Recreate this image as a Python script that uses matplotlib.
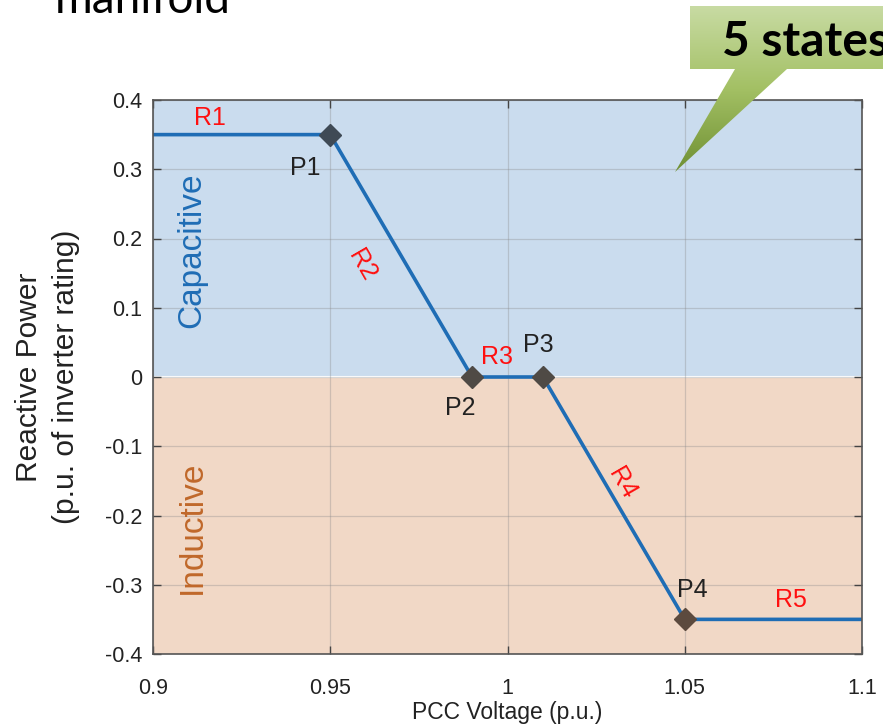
import numpy as np
import matplotlib
matplotlib.use("agg")
import matplotlib.pyplot as plt
from matplotlib.patches import Polygon

# Volt-VAR curve breakpoints
VOLTAGE = [0.9, 0.95, 0.99, 1.01, 1.05, 1.1]
QPOWER = [0.35, 0.35, 0.0, 0.0, -0.35, -0.35]
POINT_NAMES = ["P1", "P2", "P3", "P4"]
REGION_NAMES = ["R1", "R2", "R3", "R4", "R5"]
XTICKS = [0.9, 0.95, 1.0, 1.05, 1.1]
XTICKLABELS = ["0.9", "0.95", "1", "1.05", "1.1"]
YTICKS = [-0.4, -0.3, -0.2, -0.1, 0, 0.1, 0.2, 0.3, 0.4]
YTICKLABELS = ["-0.4", "-0.3", "-0.2", "-0.1", "0", "0.1", "0.2", "0.3", "0.4"]

LINE_C = "#1f6db5"
CAP_C = "#cadcee"
IND_C = "#f1d8c6"

plt.rcParams["font.family"] = ["Liberation Sans", "DejaVu Sans"]

fig = plt.figure(figsize=(8.83, 7.28), dpi=100)
ax = fig.add_axes([153/883, 1-654/728, 709/883, 554/728])

ax.axhspan(0, 0.4, color=CAP_C, zorder=0, lw=0)
ax.axhspan(-0.4, 0, color=IND_C, zorder=0, lw=0)
ax.axhline(0, color="white", lw=1.5, zorder=0.5)
ax.grid(True, color="#8a8a8a", alpha=0.35, lw=0.9, zorder=0.6)
ax.set_axisbelow(True)

ax.plot(VOLTAGE, QPOWER, color=LINE_C, lw=2.6, zorder=2)
mk_cols = ["#3f4a55", "#4f4a45", "#4f4a45", "#5c4a3e"]
for i, c in zip(range(1, 5), mk_cols):
    ax.plot(VOLTAGE[i], QPOWER[i], marker="D", ms=11.5, color=c, mec=c, zorder=3)

ax.set_xlim(0.9, 1.1)
ax.set_ylim(-0.4, 0.4)
ax.set_xticks(XTICKS)
ax.set_xticklabels(XTICKLABELS, fontsize=15.5)
ax.set_yticks(YTICKS)
ax.set_yticklabels(YTICKLABELS, fontsize=15.5)
ax.tick_params(direction="in", top=True, right=True, length=6, width=1,
               color="#444444", labelcolor="#222222")
ax.tick_params(axis="x", pad=17)
ax.tick_params(axis="y", pad=8)
for s in ax.spines.values():
    s.set_color("#555555")
    s.set_linewidth(1.2)

ax.set_xlabel("PCC Voltage (p.u.)", fontsize=16.5, color="#222222", labelpad=2)
ax.set_ylabel("Reactive Power\n(p.u. of inverter rating)", fontsize=21.5,
              color="#222222", labelpad=18, linespacing=1.4)

# point labels
pt_pos = [(0.943, 0.302), (0.9866, -0.045), (1.0086, 0.046), (1.052, -0.3075)]
for name, (x, y) in zip(POINT_NAMES, pt_pos):
    ax.text(x, y, name, fontsize=18, color="#222222", ha="center", va="center", zorder=4)

# region labels
rg_pos = [(0.916, 0.374, 0), (0.959, 0.162, -60), (0.997, 0.029, 0),
          (1.0323, -0.153, -60), (1.080, -0.322, 0)]
for name, (x, y, r) in zip(REGION_NAMES, rg_pos):
    ax.text(x, y, name, fontsize=18, color="#ff1010", ha="center", va="center",
            rotation=r, zorder=4)

ax.text(0.911, 0.183, "Capacitive", fontsize=24, color="#1f6db5", rotation=90,
        ha="center", va="center")
ax.text(0.911, -0.217, "Inductive", fontsize=24, color="#c0682a", rotation=90,
        ha="center", va="center")

# overlay in pixel coordinates for slide elements
ov = fig.add_axes([0, 0, 1, 1], zorder=10)
ov.set_xlim(0, 883)
ov.set_ylim(728, 0)
ov.axis("off")
ov.patch.set_alpha(0)

ov.text(55, 13, "manifold", fontsize=33, color="black", family="Lato",
        va="baseline", ha="left")

callout = Polygon([(690, 6), (900, 6), (900, 69), (787, 69), (675, 172),
                   (735, 69), (690, 69)], closed=True, fc="none", ec="none")
ov.add_patch(callout)
grad = np.linspace(0, 1, 256).reshape(-1, 1)
cmap = matplotlib.colors.LinearSegmentedColormap.from_list(
    "g", ["#c8dba3", "#a3c064", "#6f9033"])
im = ov.imshow(grad, cmap=cmap, extent=(670, 900, 172, 6), aspect="auto",
               zorder=1)
im.set_clip_path(callout)
ov.text(722, 56, "5 states", fontsize=34.5, fontweight="bold", color="black",
        family="Lato", va="baseline", ha="left", zorder=2)

fig.savefig("out.png", dpi=100)
